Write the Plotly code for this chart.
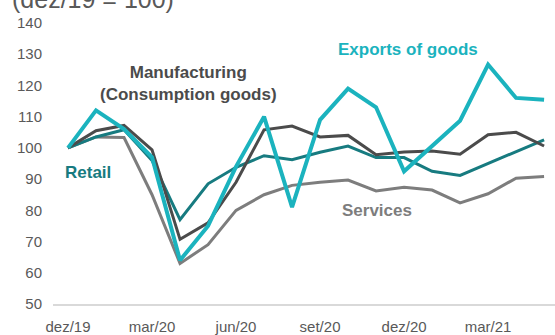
import plotly.graph_objects as go

months = ["dez/19", "jan/20", "fev/20", "mar/20", "abr/20", "mai/20", "jun/20", "jul/20",
          "ago/20", "set/20", "out/20", "nov/20", "dez/20", "jan/21", "fev/21", "mar/21",
          "abr/21", "mai/21"]
tick_labels = ["dez/19", "mar/20", "jun/20", "set/20", "dez/20", "mar/21"]

exports = [100, 112, 106, 97, 64, 75, 94, 110, 81, 109, 119, 113, 92.5, 100.5, 108.7, 126.7, 116, 115.4]
manufacturing = [100, 105.5, 107.2, 99.4, 70.7, 76, 89, 105.8, 107, 103.5, 104, 97.8, 98.7, 99, 98, 104.2, 105, 100.6]
retail = [100, 103.5, 105.8, 96, 77, 88.5, 93.8, 97.5, 96.2, 98.6, 100.6, 96.9, 96.9, 92.5, 91.2, 95, 98.8, 102.6]
services = [100, 103.5, 103.3, 85, 63, 69, 80, 85, 88, 89, 89.7, 86.2, 87.4, 86.5, 82.4, 85.3, 90.3, 90.8]

C_EXP = "#1bb3be"
C_MAN = "#4b4b4b"
C_RET = "#177b80"
C_SER = "#7d7d7d"

x = list(range(len(months)))
tick_pos = [months.index(t) for t in tick_labels]

fig = go.Figure()
fig.add_trace(go.Scatter(x=x, y=services, mode="lines", line=dict(color=C_SER, width=3), name="Services"))
fig.add_trace(go.Scatter(x=x, y=retail, mode="lines", line=dict(color=C_RET, width=3), name="Retail"))
fig.add_trace(go.Scatter(x=x, y=manufacturing, mode="lines", line=dict(color=C_MAN, width=3), name="Manufacturing"))
fig.add_trace(go.Scatter(x=x, y=exports, mode="lines", line=dict(color=C_EXP, width=4), name="Exports of goods"))

font = "Liberation Sans, Arial, sans-serif"

fig.update_layout(
    width=555, height=335,
    margin=dict(l=53, r=0, t=23, b=26),
    plot_bgcolor="white", paper_bgcolor="white",
    showlegend=False,
    font=dict(family=font, color="#595959", size=15),
    xaxis=dict(
        range=[-0.536, 17.39], tickmode="array", tickvals=tick_pos, ticktext=tick_labels,
        showgrid=False, zeroline=False, showline=True, linecolor="#d9d9d9", linewidth=2,
        ticks="", ticklabelstandoff=8, tickfont=dict(size=15, color="#595959"),
    ),
    yaxis=dict(
        range=[50, 140], tickvals=[50, 60, 70, 80, 90, 100, 110, 120, 130, 140],
        showgrid=False, zeroline=False, showline=False, ticks="",
        ticklabelstandoff=10, tickfont=dict(size=15, color="#595959"),
    ),
    annotations=[
        dict(text="(dez/19 = 100)", xref="paper", yref="paper", x=-0.085, y=1.027,
             xanchor="left", yanchor="bottom", showarrow=False,
             font=dict(size=25, color="#595959", family=font)),
        dict(text="<b>Manufacturing<br>(Consumption goods)</b>", xref="x", yref="y",
             x=4.3, y=120.5, showarrow=False, align="center",
             font=dict(size=17, color=C_MAN, family=font)),
        dict(text="<b>Exports of goods</b>", xref="x", yref="y", x=12.15, y=131.5,
             showarrow=False, font=dict(size=17, color=C_EXP, family=font)),
        dict(text="<b>Retail</b>", xref="x", yref="y", x=0.7, y=92, showarrow=False,
             font=dict(size=17, color=C_RET, family=font)),
        dict(text="<b>Services</b>", xref="x", yref="y", x=11.05, y=80, showarrow=False,
             font=dict(size=17, color=C_SER, family=font)),
    ],
)

fig.write_html("out.html", config={"displayModeBar": False},
               post_script="document.body.style.margin='0';document.body.style.overflow='hidden';")
